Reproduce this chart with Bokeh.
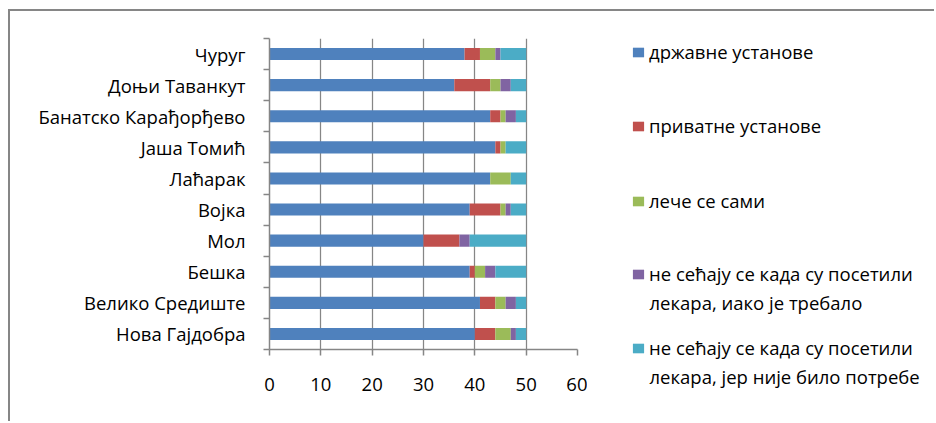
from bokeh.plotting import figure
from bokeh.models import ColumnDataSource, FixedTicker, Legend, LegendItem, Range1d, Label
from bokeh.embed import file_html
from bokeh.resources import INLINE

# Data (bottom to top)
places = ["Нова Гајдобра", "Велико Средиште", "Бешка", "Мол", "Војка",
          "Лаћарак", "Јаша Томић", "Банатско Карађорђево", "Доњи Таванкут", "Чуруг"]
state = [40, 41, 39, 30, 39, 43, 44, 43, 36, 38]
private = [4, 3, 1, 7, 6, 0, 1, 2, 7, 3]
self_treat = [3, 2, 2, 0, 1, 4, 1, 1, 2, 3]
no_visit_needed = [1, 2, 2, 2, 1, 0, 0, 2, 2, 1]
no_visit_not_needed = [2, 2, 6, 11, 3, 3, 4, 2, 3, 5]
series_labels = [
    ["државне установе"],
    ["приватне установе"],
    ["лече се сами"],
    ["не сећају се када су посетили", "лекара, иако је требало"],
    ["не сећају се када су посетили", "лекара, јер није било потребе"],
]
x_ticks = [0, 10, 20, 30, 40, 50, 60]

colors = ["#4F81BD", "#C0504D", "#9BBB59", "#8064A2", "#4BACC6"]
keys = ["s0", "s1", "s2", "s3", "s4"]
pos = list(range(len(places)))
source = ColumnDataSource(dict(y=pos, s0=state, s1=private, s2=self_treat,
                               s3=no_visit_needed, s4=no_visit_not_needed))

GRAY = "#868686"
FONT = "Open Sans"
FS = "18.5px"

H = 412

# background panel: chart-area frame border + legend (not clipped by the bar chart frame)
WB = 926
pl = figure(width=WB, height=H, output_backend="svg", toolbar_location=None,
            x_axis_type=None, y_axis_type=None, min_border=0,
            x_range=Range1d(-2, -1), y_range=Range1d(-0.5, len(places) - 0.5),
            outline_line_color=None, background_fill_color="white",
            border_fill_color="white")
pl.styles = {"position": "absolute", "left": "8px", "top": "9px", "z-index": "0",
             "border-top": "2px solid #868686", "border-left": "2px solid #868686"}
pl.grid.grid_line_color = None
# same series, kept outside the visible x range: used only for legend swatches
lrs = pl.hbar_stack(keys, y="y", height=0.39, color=colors, source=source, line_color=None)

# bar chart, laid over the panel
W1 = 259 + 308 + 10
p = figure(width=W1, height=H, output_backend="svg", toolbar_location=None,
           x_range=(0, 60), y_range=(-0.5, len(places) - 0.5),
           min_border_left=259, min_border_right=10,
           min_border_top=27, min_border_bottom=H - 27 - 311,
           outline_line_color=None, background_fill_color="white",
           border_fill_color="white")
p.styles = {"position": "absolute", "left": "10px", "top": "11px", "z-index": "1"}

rs = p.hbar_stack(keys, y="y", height=0.39, color=colors, source=source, line_color=None)

# x axis
p.xaxis.ticker = FixedTicker(ticks=x_ticks, minor_ticks=[])
p.xaxis.axis_line_color = GRAY
p.xaxis.axis_line_width = 1.5
p.xaxis.major_tick_line_color = GRAY
p.xaxis.major_tick_line_width = 1.5
p.xaxis.major_tick_out = 6
p.xaxis.major_tick_in = 0
p.xaxis.minor_tick_line_color = None
p.xaxis.major_label_standoff = 22
p.xaxis.major_label_text_font = FONT
p.xaxis.major_label_text_font_size = FS
p.xaxis.major_label_text_color = "black"

# y axis with labels centred, ticks at boundaries
bounds = [i - 0.5 for i in range(len(places) + 1)]
p.yaxis.ticker = FixedTicker(ticks=pos, minor_ticks=bounds)
p.yaxis.major_label_overrides = {i: name for i, name in zip(pos, places)}
p.yaxis.major_tick_line_color = None
p.yaxis.major_tick_out = 0
p.yaxis.major_tick_in = 0
p.yaxis.minor_tick_line_color = GRAY
p.yaxis.minor_tick_line_width = 1.5
p.yaxis.minor_tick_out = 6
p.yaxis.minor_tick_in = 0
p.yaxis.axis_line_color = GRAY
p.yaxis.axis_line_width = 1.5
p.yaxis.major_label_standoff = 18
p.yaxis.major_label_text_font = FONT
p.yaxis.major_label_text_font_size = FS
p.yaxis.major_label_text_color = "black"

p.xgrid.grid_line_color = GRAY
p.xgrid.grid_line_width = 1.25
p.ygrid.grid_line_color = None

# legend entries: first-line centres, px from top of the panel canvas
centers = [42, 116, 191, 264, 338]
LINE = 27
for r, lines, c in zip(lrs, series_labels, centers):
    lg = Legend(items=[LegendItem(label=lines[0], renderers=[r])],
                location=(621, H - (c + 11)),
                padding=0, margin=0, border_line_color=None, background_fill_alpha=0,
                glyph_width=14, glyph_height=12, label_standoff=4, label_height=20,
                label_text_font=FONT, label_text_font_size=FS, label_text_color="black")
    pl.add_layout(lg)
    for k, extra in enumerate(lines[1:], start=1):
        pl.add_layout(Label(x=639, y=H - (c + k * LINE), x_units="screen", y_units="screen",
                            text=extra, text_font=FONT, text_font_size=FS,
                            text_color="black", text_baseline="middle"))

open("out.html", "w").write(file_html([pl, p], INLINE))
